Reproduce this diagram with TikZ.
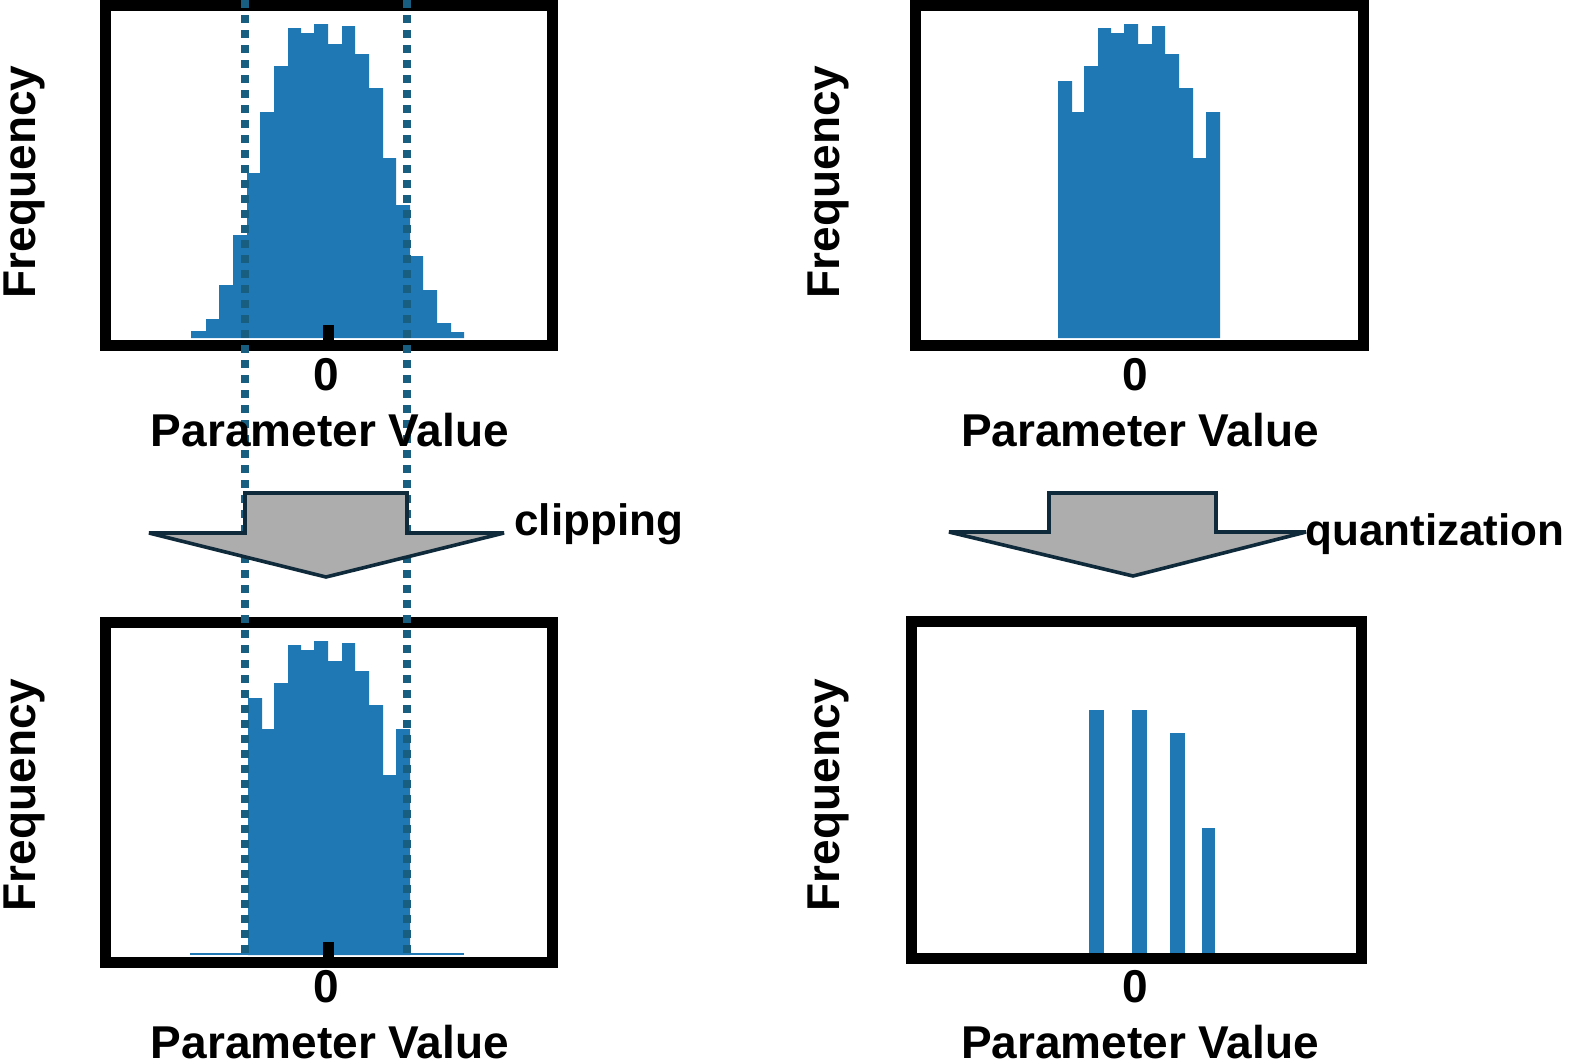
\documentclass[tikz,border=0pt]{standalone}
\usepackage{fontspec}
\setmainfont{Liberation Sans}
\begin{document}
\begin{tikzpicture}[x=0.5pt,y=-0.5pt,
  bar/.style={fill=histblue,draw=none},
  frame/.style={draw=black,line width=5.5pt},
  clipline/.style={draw=dashblue,line width=3.6pt,dash pattern=on 4pt off 3.5pt},
  bigarrow/.style={fill=arrowgray,draw=arrowedge,line width=1.8pt,line join=miter,miter limit=2},
  lab/.style={font=\fontsize{23}{26}\selectfont\bfseries,inner sep=0pt},
  oplab/.style={font=\fontsize{22}{26}\selectfont\bfseries,inner sep=0pt}]
\definecolor{histblue}{HTML}{1F77B4}
\definecolor{dashblue}{RGB}{24,94,128}
\definecolor{arrowgray}{HTML}{ADADAD}
\definecolor{arrowedge}{HTML}{0F2A3A}
\useasboundingbox (0,0) rectangle (1570,1060);
\fill[white] (0,0) rectangle (1570,1060);
\def\fullhist{(191,338) -- (191,331) -- (206,331) -- (206,319) -- (219,319) -- (219,285) -- (233,285) -- (233,235) -- (247,235) -- (247,173) -- (260,173) -- (260,112) -- (274,112) -- (274,66) -- (288,66) -- (288,28) -- (301,28) -- (301,33) -- (314,33) -- (314,24) -- (328,24) -- (328,44) -- (342,44) -- (342,26) -- (355,26) -- (355,54) -- (369,54) -- (369,88) -- (383,88) -- (383,158) -- (396,158) -- (396,205) -- (410,205) -- (410,256) -- (423,256) -- (423,290) -- (437,290) -- (437,323) -- (451,323) -- (451,332) -- (464,332) -- (464,338) -- cycle}
\def\cliphist{(248,338) -- (248,81) -- (262,81) -- (262,112) -- (274,112) -- (274,66) -- (288,66) -- (288,28) -- (301,28) -- (301,33) -- (314,33) -- (314,24) -- (328,24) -- (328,44) -- (342,44) -- (342,26) -- (355,26) -- (355,54) -- (369,54) -- (369,88) -- (383,88) -- (383,158) -- (396,158) -- (396,112) -- (410,112) -- (410,338) -- cycle}
% top-left
\fill[bar] \fullhist;
\fill[black] (323,325) rectangle (334,340);
\draw[frame] (105,5) rectangle (552,345);
% top-right
\begin{scope}[shift={(810,0)}]
\fill[bar] \cliphist;
\end{scope}
\draw[frame] (915,5) rectangle (1363,345);
% bottom-left
\begin{scope}[shift={(0,617)}]
\fill[bar] (190,336) rectangle (464,338);
\fill[bar] \cliphist;
\fill[black] (323,325) rectangle (334,340);
\end{scope}
\draw[frame] (105,622) rectangle (552,962);
% bottom-right
\fill[bar] (1089,710) rectangle (1104,953);
\fill[bar] (1132,710) rectangle (1147,953);
\fill[bar] (1170,733) rectangle (1185,953);
\fill[bar] (1202,828) rectangle (1215,953);
\draw[frame] (911,621) rectangle (1361,958);
% clip lines
\coordinate (c1t) at (245,0); \coordinate (c1b) at (245,955);
\coordinate (c2t) at (407,0); \coordinate (c2b) at (407,955);
\draw[clipline] (c1t) -- (c1b);
\draw[clipline] (c2t) -- (c2b);
% arrows
\draw[bigarrow] (245,493) -- (407,493) -- (407,533) -- (504,533) -- (326,577) -- (149,533) -- (245,533) -- cycle;
\draw[bigarrow] (1049,493) -- (1216,493) -- (1216,532) -- (1306,532) -- (1133,576) -- (949,532) -- (1049,532) -- cycle;
\node[oplab,anchor=west] (clip) at (514,524) {clipping};
\node[oplab,anchor=west] (quant) at (1305,534) {quantization};
% labels
\node[lab] (z1) at (326,375) {0};
\node[lab] (p1) at (330,430) {Parameter Value};
\node[lab,rotate=90] (f1) at (24,182) {Frequency};
\node[lab] (z2) at (1135,375) {0};
\node[lab] (p2) at (1140,430) {Parameter Value};
\node[lab,rotate=90] (f2) at (828,182) {Frequency};
\node[lab] (z3) at (326,987) {0};
\node[lab] (p3) at (330,1042) {Parameter Value};
\node[lab,rotate=90] (f3) at (24,795) {Frequency};
\node[lab] (z4) at (1135,987) {0};
\node[lab] (p4) at (1140,1042) {Parameter Value};
\node[lab,rotate=90] (f4) at (828,795) {Frequency};
\end{tikzpicture}
\end{document}
